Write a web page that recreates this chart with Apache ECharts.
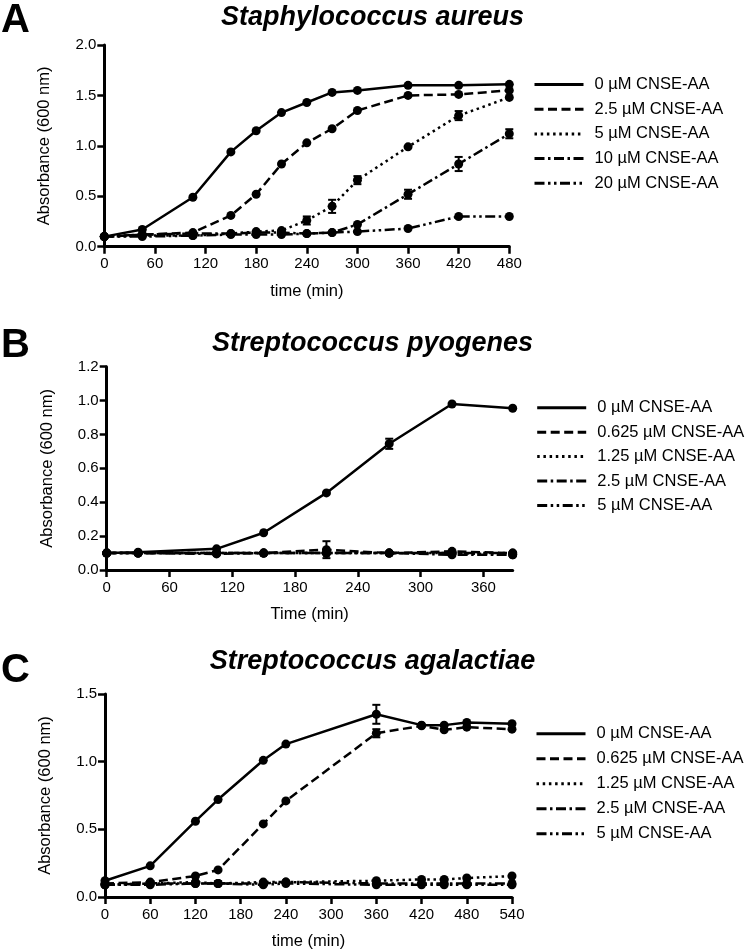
<!DOCTYPE html>
<html><head><meta charset="utf-8">
<script src="https://cdn.jsdelivr.net/npm/echarts@6/dist/echarts.min.js"></script>
<style>html,body{margin:0;padding:0;background:#fff}#c{width:745px;height:951px}</style>
</head><body><div id="c"></div>
<script>
// ---------- Panel A: Staphylococcus aureus ----------
const timeA = [0,45,105,150,180,210,240,270,300,360,420,480];
const namesA = ['0 µM CNSE-AA','2.5 µM CNSE-AA','5 µM CNSE-AA','10 µM CNSE-AA','20 µM CNSE-AA'];
const a0  = [0.10,0.17,0.49,0.94,1.15,1.33,1.43,1.53,1.55,1.60,1.60,1.61];
const a25 = [0.10,0.12,0.14,0.31,0.52,0.82,1.03,1.17,1.35,1.50,1.51,1.55];
const a5  = [0.10,0.11,0.11,0.13,0.15,0.16,0.26,0.40,0.66,0.99,1.30,1.48];
const a10 = [0.10,0.12,0.13,0.13,0.14,0.14,0.13,0.14,0.22,0.52,0.82,1.12];
const a20 = [0.10,0.10,0.11,0.12,0.12,0.12,0.13,0.14,0.15,0.18,0.30,0.30];
const errA5  = [[240,0.04],[270,0.065],[300,0.04],[420,0.045]];
const errA10 = [[360,0.045],[420,0.07],[480,0.045]];
const xTicksA = [0,60,120,180,240,300,360,420,480];
const yTicksA = [0,0.5,1.0,1.5,2.0];

// ---------- Panel B: Streptococcus pyogenes ----------
const timeB = [0,30,105,150,210,270,330,388];
const namesB = ['0 µM CNSE-AA','0.625 µM CNSE-AA','1.25 µM CNSE-AA','2.5 µM CNSE-AA','5 µM CNSE-AA'];
const b0    = [0.10,0.105,0.125,0.22,0.455,0.745,0.98,0.955];
const b0625 = [0.10,0.10,0.10,0.10,0.12,0.10,0.11,0.10];
const b125  = [0.10,0.10,0.10,0.10,0.10,0.10,0.10,0.09];
const b25   = [0.10,0.10,0.095,0.10,0.10,0.10,0.09,0.09];
const b5    = [0.10,0.10,0.10,0.10,0.10,0.10,0.10,0.10];
const errB0    = [[270,0.03]];
const errB0625 = [[210,0.05]];
const xTicksB = [0,60,120,180,240,300,360];
const yTicksB = [0,0.2,0.4,0.6,0.8,1.0,1.2];

// ---------- Panel C: Streptococcus agalactiae ----------
const timeC = [0,60,120,150,210,240,360,420,450,480,540];
const namesC = ['0 µM CNSE-AA','0.625 µM CNSE-AA','1.25 µM CNSE-AA','2.5 µM CNSE-AA','5 µM CNSE-AA'];
const c0    = [0.12,0.23,0.56,0.72,1.01,1.13,1.35,1.27,1.27,1.29,1.28];
const c0625 = [0.10,0.11,0.155,0.20,0.54,0.71,1.21,1.265,1.235,1.255,1.24];
const c125  = [0.09,0.10,0.11,0.10,0.11,0.11,0.12,0.13,0.13,0.14,0.155];
const c25   = [0.09,0.10,0.10,0.10,0.10,0.11,0.10,0.10,0.10,0.10,0.10];
const c5    = [0.09,0.09,0.10,0.10,0.09,0.10,0.09,0.09,0.09,0.09,0.09];
const errC0    = [[360,0.07]];
const errC0625 = [[360,0.03]];
const xTicksC = [0,60,120,180,240,300,360,420,480,540];
const yTicksC = [0,0.5,1.0,1.5];

// ---------- styling ----------
const FF = '"Liberation Sans", Arial, Helvetica, sans-serif';
const dashes = ['solid',[9,4.5],[2.5,3.7],[10,3.5,2.5,3.5],[10,3.5,2.5,3.5,2.5,3.5]];

function pairs(t, v){ return t.map((x,i)=>[x,v[i]]); }
function errData(t, v, e){
  return e.map(([x,d])=>{ const m=v[t.indexOf(x)]; return [x,m-d,m+d]; });
}
function errRender(params, api){
  const x = api.value(0), lo = api.value(1), hi = api.value(2);
  const top = api.coord([x,hi]), bot = api.coord([x,lo]);
  const w = 4, st = {stroke:'#000', lineWidth:2};
  return {type:'group', children:[
    {type:'line', shape:{x1:top[0],y1:top[1],x2:bot[0],y2:bot[1]}, style:st},
    {type:'line', shape:{x1:top[0]-w,y1:top[1],x2:top[0]+w,y2:top[1]}, style:st},
    {type:'line', shape:{x1:bot[0]-w,y1:bot[1],x2:bot[0]+w,y2:bot[1]}, style:st}
  ]};
}

const series = [];
function addPanel(idx, prefix, t, names, vals, errs){
  vals.forEach((v,i)=>{
    series.push({
      type:'line', name:prefix+'|'+names[i], xAxisIndex:idx, yAxisIndex:idx,
      data:pairs(t,v), symbol:'circle', symbolSize:9, showSymbol:true,
      itemStyle:{color:'#000'},
      lineStyle:{color:'#000', width:2.5, type:dashes[i], cap:'butt'},
      emphasis:{disabled:true}, z:3
    });
  });
  errs.forEach(([i,e])=>{
    series.push({
      type:'custom', name:prefix+'err'+i, xAxisIndex:idx, yAxisIndex:idx,
      renderItem:errRender, data:errData(t,vals[i],e), encode:{x:0,y:[1,2]}, z:4
    });
  });
}
addPanel(0,'A',timeA,namesA,[a0,a25,a5,a10,a20],[[2,errA5],[3,errA10]]);
addPanel(1,'B',timeB,namesB,[b0,b0625,b125,b25,b5],[[0,errB0],[1,errB0625]]);
addPanel(2,'C',timeC,namesC,[c0,c0625,c125,c25,c5],[[0,errC0],[1,errC0625]]);

const grids = [
  {left:104.3, top:45, width:405, height:201.7},
  {left:106.7, top:366.7, width:406, height:203.3},
  {left:105, top:694, width:407, height:203.3}
];
function xAx(idx, ticks, max, name){
  return {
    type:'value', gridIndex:idx, min:0, max:max, interval:60,
    name:name, nameLocation:'middle', nameGap:36,
    nameTextStyle:{fontSize:16.5, color:'#000', fontFamily:FF},
    axisLine:{show:true, onZero:false, lineStyle:{color:'#000', width:3}},
    axisTick:{show:true, length:7, lineStyle:{color:'#000', width:2.5}, customValues:ticks},
    axisLabel:{fontSize:15, color:'#000', fontFamily:FF, margin:10, customValues:ticks},
    splitLine:{show:false}
  };
}
function yAx(idx, ticks, interval){
  return {
    type:'value', gridIndex:idx, min:0, max:ticks[ticks.length-1], interval:interval,
    name:'Absorbance (600 nm)', nameLocation:'middle', nameGap:51,
    nameTextStyle:{fontSize:16.5, color:'#000', fontFamily:FF},
    axisLine:{show:true, onZero:false, lineStyle:{color:'#000', width:3}},
    axisTick:{show:true, length:7, lineStyle:{color:'#000', width:2.5}},
    axisLabel:{fontSize:15, color:'#000', fontFamily:FF, margin:8, formatter:v=>v.toFixed(1)},
    splitLine:{show:false}
  };
}
function leg(prefix, names, left, top, gap){
  return {
    data:names.map(n=>prefix+'|'+n), formatter:n=>n.split('|')[1],
    orient:'vertical', left:left, top:top, padding:0,
    itemWidth:49, itemHeight:16, itemGap:gap, selectedMode:false,
    itemStyle:{opacity:0}, lineStyle:{width:3},
    textStyle:{fontSize:16.5, color:'#000', fontFamily:FF, lineHeight:16, padding:[0,0,0,6]}
  };
}
function ttl(text, left, top, size, italic){
  return {text:text, left:left, top:top, padding:0,
    textStyle:{fontSize:size, fontWeight:'bold', fontStyle:italic?'italic':'normal', color:'#000', fontFamily:FF}};
}

const option = {
  animation:false,
  backgroundColor:'#fff',
  title:[
    ttl('A',1,1,40,false), ttl('Staphylococcus aureus','center',3.7,27,true),
    ttl('B',1,326,40,false), ttl('Streptococcus pyogenes','center',330,27,true),
    ttl('C',1,651,40,false), ttl('Streptococcus agalactiae','center',648.5,27,true)
  ],
  legend:[
    leg('A',namesA,533,76,7.7),
    leg('B',namesB,535.7,399.3,7.4),
    leg('C',namesC,535,725.3,8)
  ],
  grid:grids,
  xAxis:[xAx(0,xTicksA,480,'time (min)'), xAx(1,xTicksB,388,'Time (min)'), xAx(2,xTicksC,540,'time (min)')],
  yAxis:[yAx(0,yTicksA,0.5), yAx(1,yTicksB,0.2), yAx(2,yTicksC,0.5)],
  series:series
};
const chart = echarts.init(document.getElementById('c'), null, {renderer:'canvas'});
chart.setOption(option);
</script></body></html>
